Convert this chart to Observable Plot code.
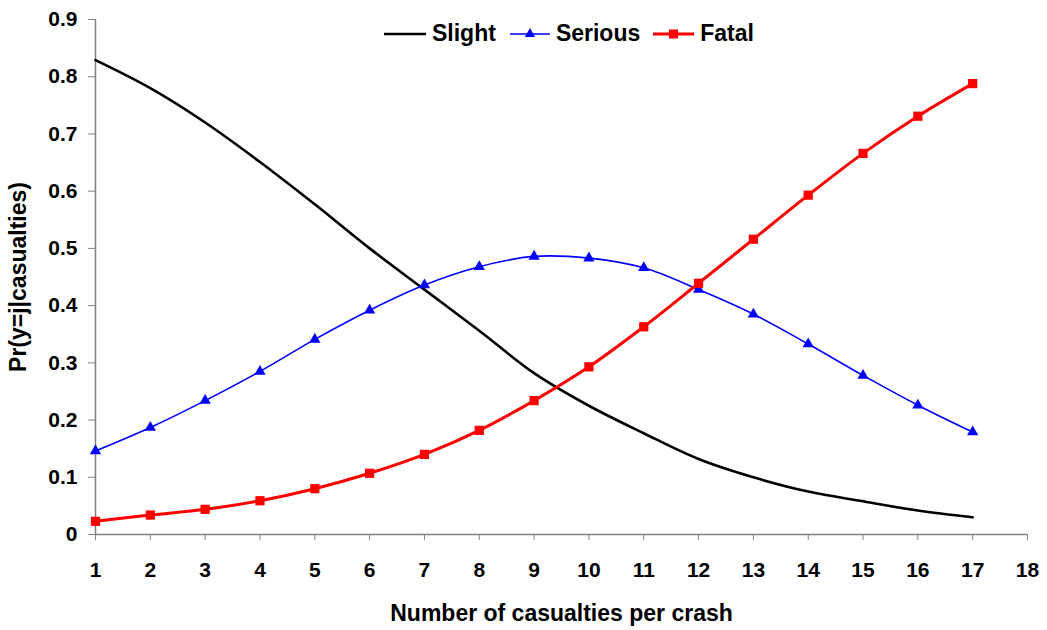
<!DOCTYPE html>
<html>
<head>
<meta charset="utf-8">
<script src="https://cdn.jsdelivr.net/npm/d3@7"></script>
<script src="https://cdn.jsdelivr.net/npm/@observablehq/plot@0.6"></script>
<style>
  html, body { margin: 0; padding: 0; background: #fff; }
  #wrap { position: relative; width: 1047px; height: 630px; }
  #legend { position: absolute; left: 384px; top: 20px; display: flex; align-items: center;
    font-family: "Liberation Sans", Arial, sans-serif; font-weight: bold; font-size: 23px; color: #000; }
  #legend .item { display: flex; align-items: center; }
  #legend svg { display: block; }
</style>
</head>
<body>
<div id="wrap"><div id="legend"></div></div>
<script>
// ---- data ----
const casualties = [1, 2, 3, 4, 5, 6, 7, 8, 9, 10, 11, 12, 13, 14, 15, 16, 17];
const slight  = [0.829, 0.780, 0.720, 0.651, 0.577, 0.500, 0.428, 0.356, 0.282, 0.225, 0.177, 0.132, 0.100, 0.075, 0.058, 0.042, 0.030];
const serious = [0.146, 0.187, 0.234, 0.285, 0.341, 0.392, 0.436, 0.468, 0.486, 0.483, 0.466, 0.428, 0.385, 0.333, 0.278, 0.226, 0.179];
const fatal   = [0.023, 0.034, 0.044, 0.059, 0.080, 0.107, 0.140, 0.182, 0.234, 0.293, 0.363, 0.439, 0.516, 0.593, 0.666, 0.731, 0.788];
const seriesNames = ["Slight", "Serious", "Fatal"];
const seriesColors = ["#000000", "#0000ff", "#ff0000"];
const xTicks = [1, 2, 3, 4, 5, 6, 7, 8, 9, 10, 11, 12, 13, 14, 15, 16, 17, 18];
const yTicks = [0, 0.1, 0.2, 0.3, 0.4, 0.5, 0.6, 0.7, 0.8, 0.9];
const xTitle = "Number of casualties per crash";
const yTitle = "Pr(y=j|casualties)";

const toRows = vals => casualties.map((x, i) => ({x, y: vals[i]}));
const slightRows = toRows(slight);
const seriousRows = toRows(serious);
const fatalRows = toRows(fatal);

const axisGray = "#808080";

const chart = Plot.plot({
  width: 1047,
  height: 630,
  marginLeft: 95,
  marginRight: 20,
  marginTop: 19,
  marginBottom: 96,
  style: {fontFamily: "'Liberation Sans', Arial, sans-serif", fontWeight: "bold", fontSize: "21px", background: "#fff", color: "#000"},
  x: {domain: [1, 18]},
  y: {domain: [0, 0.9]},
  marks: [
    Plot.ruleY([0], {stroke: axisGray, strokeWidth: 1.5}),
    Plot.ruleX([1], {stroke: axisGray, strokeWidth: 1.5}),
    Plot.axisX({ticks: xTicks, tickSize: 6, tickPadding: 22, stroke: axisGray, fill: "#000", tickFormat: d => String(d),
      label: null, fontSize: 21}),
    Plot.axisX({ticks: [], label: xTitle, labelAnchor: "center", labelOffset: 86, labelArrow: "none", fill: "#000", fontSize: 23}),
    Plot.axisY({ticks: yTicks, tickSize: 7, tickPadding: 11, stroke: axisGray, fill: "#000", tickFormat: d => d === 0 ? "0" : d.toFixed(1),
      label: null, fontSize: 21}),
    Plot.axisY({ticks: [], label: yTitle, labelAnchor: "center", labelOffset: 86, labelArrow: "none", fill: "#000", fontSize: 23}),
    Plot.line(slightRows, {x: "x", y: "y", stroke: seriesColors[0], strokeWidth: 2.6, curve: "catmull-rom"}),
    Plot.line(seriousRows, {x: "x", y: "y", stroke: seriesColors[1], strokeWidth: 1.6, curve: "catmull-rom"}),
    Plot.dot(seriousRows, {x: "x", y: "y", symbol: "triangle", r: 4.2, fill: seriesColors[1], stroke: "none"}),
    Plot.line(fatalRows, {x: "x", y: "y", stroke: seriesColors[2], strokeWidth: 3, curve: "catmull-rom"}),
    Plot.dot(fatalRows, {x: "x", y: "y", symbol: "square", r: 5.2, fill: seriesColors[2], stroke: "none"})
  ]
});
document.getElementById("wrap").prepend(chart);
chart.style.position = "absolute";
chart.style.left = "0"; chart.style.top = "0";

// ---- legend ----
const legend = document.getElementById("legend");
const swatchW = [42, 40, 41];
const gapsBefore = [0, 14, 13];
const symbols = [null, "triangle", "square"];
const widths = [2.6, 1.6, 3];
seriesNames.forEach((name, i) => {
  const item = document.createElement("div");
  item.className = "item";
  item.style.marginLeft = gapsBefore[i] + "px";
  const w = swatchW[i];
  const s = d3.create("svg").attr("width", w).attr("height", 26);
  s.append("line").attr("x1", 0).attr("x2", w).attr("y1", 13).attr("y2", 13)
    .attr("stroke", seriesColors[i]).attr("stroke-width", widths[i]);
  if (symbols[i] === "triangle") {
    s.append("path").attr("transform", `translate(${w/2},13)`).attr("d", d3.symbol(d3.symbolTriangle, 45)()).attr("fill", seriesColors[i]);
  } else if (symbols[i] === "square") {
    s.append("rect").attr("x", w/2 - 4.5).attr("y", 13 - 4.5).attr("width", 9).attr("height", 9).attr("fill", seriesColors[i]);
  }
  item.appendChild(s.node());
  const t = document.createElement("span");
  t.textContent = name;
  t.style.marginLeft = "6px";
  item.appendChild(t);
  legend.appendChild(item);
});
</script>
</body>
</html>
